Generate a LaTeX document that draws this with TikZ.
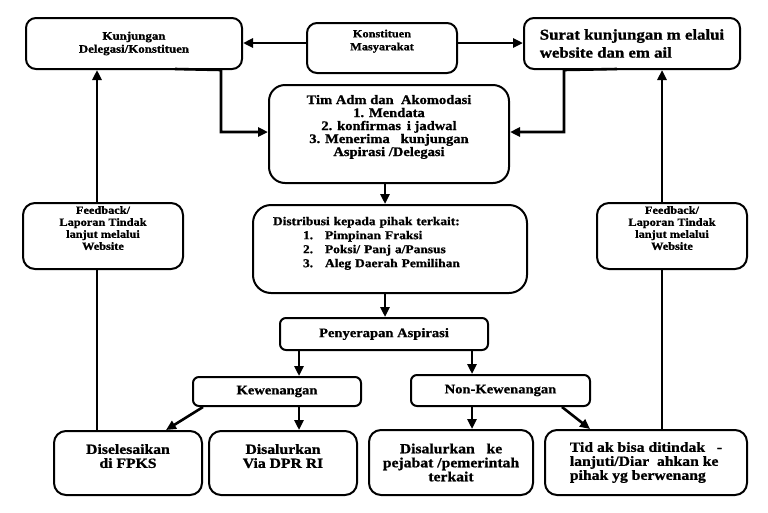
\documentclass[tikz,border=0pt]{standalone}
\usepackage{fontspec}
\setmainfont{Liberation Serif}[FakeStretch=1.12, BoldFeatures={FakeBold=1}]
\usetikzlibrary{arrows.meta}
\newcommand{\fsz}[2]{\fontsize{#1}{#2}\selectfont\bfseries}
\begin{document}
\begin{tikzpicture}[x=1pt,y=-1pt,
  box/.style={draw, line width=2pt, rounded corners=10pt, align=center, inner sep=0pt},
  arr/.style={line width=2.6pt, -{Triangle[length=10pt,width=9pt]}},
  ln/.style={line width=2.6pt}]
\useasboundingbox (0,0) rectangle (768,512);
\fill[white] (0,0) rectangle (768,512);

\node[box, minimum width=216pt, minimum height=51pt, font=\fsz{11.5}{13}] (kunj) at (134,43.5) {Kunjungan\\Delegasi/Konstituen};
\node[box, minimum width=150pt, minimum height=50pt, font=\fsz{11}{13}] (kons) at (382,48) {Konstituen\\Masyarakat\\[3pt]};
\node[box, minimum width=216pt, minimum height=51pt, align=left, font=\fsz{15}{18}] (surat) at (632,43.5) {Surat kunjungan m elalui\\website dan em ail};
\node[box, rounded corners=16pt, minimum width=240pt, minimum height=98pt, font=\fsz{13}{13}] (tim) at (389,134) {Tim Adm dan \ Akomodasi\\1. Mendata\\2. konfirmas \,i jadwal\\3. Menerima \ \ kunjungan\\Aspirasi /Delegasi\\[4pt]};
\node[box, rounded corners=18pt, minimum width=274pt, minimum height=88pt, text width=234pt, align=left, font=\fsz{12}{14}] (dist) at (390,249) {Distribusi kepada pihak terkait:\\
\hspace*{30pt}\makebox[22pt][l]{1.}Pimpinan Fraksi\\
\hspace*{30pt}\makebox[22pt][l]{2.}Poksi/ Panj a/Pansus\\
\hspace*{30pt}\makebox[22pt][l]{3.}Aleg Daerah Pemilihan\\ \mbox{}};
\node[box, rounded corners=6pt, minimum width=208pt, minimum height=32pt, font=\fsz{13}{14}] (peny) at (384,334) {Penyerapan Aspirasi};
\node[box, rounded corners=6pt, minimum width=168pt, minimum height=29pt, font=\fsz{13}{14}] (kew) at (277,391.5) {Kewenangan};
\node[box, rounded corners=6pt, minimum width=179pt, minimum height=31pt, font=\fsz{13}{14}] (non) at (500.5,390.5) {Non-Kewenangan};
\node[box, rounded corners=12pt, minimum width=148pt, minimum height=64pt, font=\fsz{14}{14}] (dis1) at (128,463) {Diselesaikan\\di FPKS\\ \mbox{}};
\node[box, rounded corners=12pt, minimum width=148pt, minimum height=64pt, font=\fsz{14}{14}] (dis2) at (283,463) {Disalurkan\\Via DPR RI\\ \mbox{}};
\node[box, rounded corners=12pt, minimum width=164pt, minimum height=65pt, font=\fsz{14}{14}] (dis3) at (451,462.5) {Disalurkan \ \ ke\\pejabat /pemerintah\\terkait};
\node[box, rounded corners=12pt, minimum width=202pt, minimum height=65pt, align=left, font=\fsz{14}{14}] (tid) at (646,462.5) {Tid ak bisa ditindak \ \ -\\lanjuti/Diar \ ahkan ke\\pihak yg berwenang};
\node[box, rounded corners=12pt, minimum width=160pt, minimum height=66pt, font=\fsz{11}{12}] (fbl) at (103,236) {Feedback/\\Laporan Tindak\\lanjut melalui\\Website\\[4pt]};
\node[box, rounded corners=12pt, minimum width=150pt, minimum height=66pt, font=\fsz{11}{12}] (fbr) at (672,236) {Feedback/\\Laporan Tindak\\lanjut melalui\\Website\\[4pt]};

\coordinate (ky) at (0,43);
\draw[arr] (kons.west |- ky) -- (kunj.east |- ky);
\draw[arr] (kons.east |- ky) -- (surat.west |- ky);
\coordinate (s1) at (175,69); \coordinate (b1) at (221,132);
\draw[arr] (s1) -- (kunj.south -| b1) -- (b1) -- (tim.west |- b1);
\coordinate (s2) at (617,69); \coordinate (b2) at (564,132);
\draw[arr] (s2) -- (surat.south -| b2) -- (b2) -- (tim.east |- b2);
\coordinate (cx) at (385,0);
\draw[arr] (tim.south -| cx) -- (dist.north -| cx);
\draw[arr] (dist.south -| cx) -- (peny.north -| cx);
\coordinate (a1) at (299,0); \coordinate (a2) at (472,0);
\draw[arr] (peny.south -| a1) -- (kew.north -| a1);
\draw[arr] (peny.south -| a2) -- (non.north -| a2);
\draw[arr] (kew.south -| a1) -- (dis2.north -| a1);
\draw[arr] (non.south -| a2) -- (dis3.north -| a2);
\draw[arr] ([xshift=11pt]kew.south west) -- ([xshift=38pt]dis1.north);
\draw[arr] ([xshift=-29pt]non.south east) -- ([xshift=-56pt]tid.north);
\coordinate (fx) at (97,0); \coordinate (gx) at (662,0);
\draw[ln] (dis1.north -| fx) -- (fbl.south -| fx);
\draw[arr] (fbl.north -| fx) -- (kunj.south -| fx);
\draw[ln] (tid.north -| gx) -- (fbr.south -| gx);
\draw[arr] (fbr.north -| gx) -- (surat.south -| gx);
\end{tikzpicture}
\end{document}
